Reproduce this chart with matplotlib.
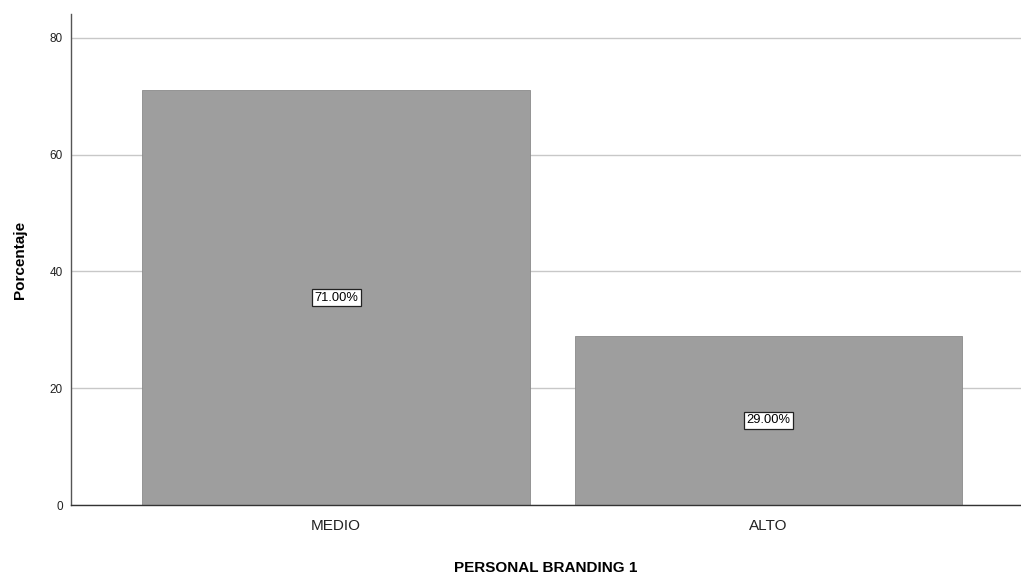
import matplotlib
matplotlib.use("Agg")
import matplotlib.pyplot as plt

categories = ["MEDIO", "ALTO"]
percentages = [71.0, 29.0]
bar_labels = ["71.00%", "29.00%"]
y_ticks = [0, 20, 40, 60, 80]

plt.rcParams["font.family"] = ["Liberation Sans", "DejaVu Sans"]

fig = plt.figure(figsize=(10.21, 5.73), dpi=100)
ax = fig.add_axes([71 / 1021, 68 / 573, 950 / 1021, 491 / 573])

positions = list(range(len(categories)))
ax.bar(positions, percentages, width=0.897, color="#9e9e9e", edgecolor="#8a8a8a",
       linewidth=0.6, zorder=2)

for x, val, txt in zip(positions, percentages, bar_labels):
    ax.text(x, val / 2, txt, ha="center", va="center", fontsize=9.3, color="black",
            zorder=3,
            bbox=dict(boxstyle="square,pad=0.2", facecolor="white",
                      edgecolor="#222222", linewidth=0.9))

ax.set_xlim(-0.613, 1.584)
ax.set_ylim(0, 84.1)
ax.set_yticks(y_ticks)
ax.set_xticks(positions)
ax.set_xticklabels(categories, fontsize=11, color="#222222")
ax.tick_params(axis="y", labelsize=8.5, length=0, pad=6, labelcolor="#222222")
ax.tick_params(axis="x", length=0, pad=10)

ax.grid(axis="y", color="#c8c8c8", linewidth=1.0, zorder=0)
ax.set_axisbelow(True)

for side in ["top", "right"]:
    ax.spines[side].set_visible(False)
ax.spines["left"].set_color("#555555")
ax.spines["bottom"].set_color("#333333")
ax.spines["left"].set_linewidth(1.0)
ax.spines["bottom"].set_linewidth(1.0)

ax.set_ylabel("Porcentaje", fontsize=11, fontweight="bold", labelpad=16)
ax.set_xlabel("PERSONAL BRANDING 1", fontsize=11, fontweight="bold", labelpad=20)

fig.savefig("out.png", dpi=100)
